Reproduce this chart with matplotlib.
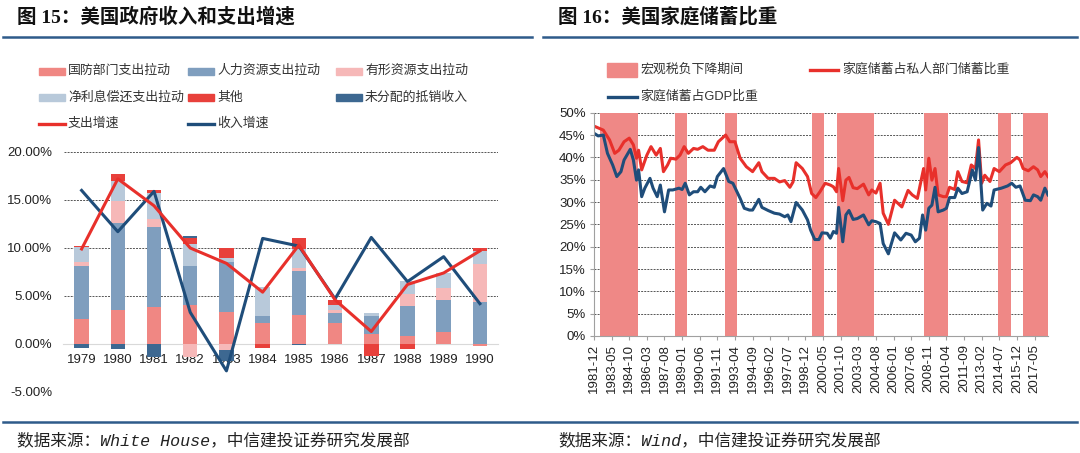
import matplotlib
matplotlib.use('Agg')
import matplotlib.pyplot as plt
from matplotlib.patches import Rectangle
from matplotlib.lines import Line2D
import numpy as np

plt.rcParams['font.family'] = ['Liberation Sans', 'Noto Sans CJK SC', 'DejaVu Sans']

# ---------- 图15 data (percent) ----------
years = ['1979', '1980', '1981', '1982', '1983', '1984', '1985', '1986', '1987', '1988', '1989', '1990']
defense = [2.6, 3.5, 3.9, 4.1, 3.3, 2.2, 3.0, 2.2, 1.0, 0.8, 1.2, -0.2]
human = [5.5, 9.1, 8.3, 4.0, 5.2, 0.7, 4.6, 1.0, 1.9, 3.2, 3.4, 4.4]
tangible = [0.4, 2.3, 0.8, -1.4, -0.6, 0.0, 0.3, 0.3, 0.0, 1.2, 1.2, 3.9]
interest = [1.6, 2.1, 2.7, 2.3, 0.5, 3.0, 2.0, 0.6, 0.3, 1.4, 1.6, 1.4]
other = [0.1, 0.7, 0.3, 0.6, 1.0, -0.4, 1.1, 0.5, -1.2, -0.5, 0.0, 0.3]
undistributed = [-0.4, -0.5, -1.4, 0.3, -1.2, 0.0, -0.1, 0.0, 0.0, 0.0, 0.0, 0.0]
spend_growth = [9.9, 17.2, 14.4, 10.0, 8.4, 5.4, 10.3, 4.6, 1.3, 6.2, 7.4, 9.7]
revenue_growth = [16.0, 11.7, 15.9, 3.3, -2.8, 11.0, 10.2, 4.7, 11.1, 6.5, 9.1, 4.2]

# ---------- 图16 data (percent), x = months since 1981-12 ----------
private_m = [0, 1, 9, 15, 20, 24, 29, 34, 38, 41, 43, 46, 51, 55, 60, 64, 67, 71, 74, 79,
             83, 87, 91, 96, 100, 105, 110, 116, 120, 127, 131, 136, 141, 147, 153, 159, 162, 168, 174, 179,
             184, 189, 192, 195, 201, 206, 210, 214, 218, 223, 228, 231, 234, 236, 240, 243, 246, 250, 254, 260,
             265, 268, 272, 276, 279, 284, 290, 297, 303, 307, 312, 316, 318, 320, 323, 326, 329, 332, 337, 340,
             343, 348, 351, 355, 360, 364, 368, 371, 374, 377, 382, 386, 391, 397, 402, 408, 411, 414, 419, 424,
             428, 431, 435, 438]
private_share = [47.0, 46.9, 46.1, 43.9, 40.9, 41.6, 43.5, 44.3, 42.8, 39.8, 41.6, 37.2, 40.5, 42.4, 40.5, 42.0, 36.8, 38.3, 39.8, 39.6,
                 40.5, 42.4, 40.9, 42.0, 41.8, 42.4, 41.6, 41.6, 43.5, 45.0, 43.5, 43.5, 39.8, 37.9, 36.8, 38.8, 36.8, 35.3, 35.3, 34.5,
                 34.8, 33.3, 34.5, 38.8, 37.5, 35.7, 31.9, 31.0, 32.3, 34.2, 33.8, 33.4, 32.3, 37.5, 30.3, 34.9, 35.5, 33.2, 33.0, 34.0,
                 31.6, 32.7, 32.0, 34.2, 27.5, 25.0, 30.4, 28.9, 32.6, 31.6, 30.8, 35.3, 37.5, 32.7, 39.8, 34.9, 37.5, 31.6, 31.2, 31.2,
                 33.3, 32.8, 36.8, 34.6, 34.3, 38.3, 37.5, 43.9, 34.2, 36.0, 34.6, 37.5, 36.8, 38.3, 38.8, 40.0, 39.4, 37.5, 37.0, 37.9,
                 37.2, 35.7, 36.8, 35.7]
gdp_m = [0, 4, 9, 13, 18, 22, 26, 29, 35, 38, 41, 43, 46, 49, 54, 57, 61, 64, 68, 72,
         76, 82, 85, 88, 92, 96, 100, 103, 107, 112, 116, 119, 125, 130, 134, 141, 145, 150, 153, 159,
         162, 168, 174, 179, 184, 187, 190, 195, 201, 206, 209, 213, 217, 220, 225, 228, 231, 234, 236, 240,
         243, 246, 250, 254, 260, 265, 268, 272, 276, 279, 284, 290, 296, 301, 306, 310, 314, 317, 320, 323,
         326, 329, 332, 337, 340, 343, 348, 351, 355, 360, 365, 368, 371, 375, 379, 383, 386, 393, 399, 403,
         407, 411, 416, 421, 424, 428, 431, 435, 438]
gdp_share = [45.4, 44.8, 45.0, 40.9, 38.3, 35.7, 36.8, 39.4, 41.8, 39.4, 34.9, 37.2, 31.2, 33.1, 35.3, 33.1, 31.2, 33.8, 27.8, 32.7,
             32.7, 33.1, 32.8, 34.2, 31.6, 32.3, 32.3, 33.3, 32.3, 33.6, 33.3, 35.7, 37.5, 34.6, 34.2, 30.8, 28.6, 28.2, 28.2, 30.6,
             28.8, 28.1, 27.5, 27.3, 26.7, 27.1, 25.6, 29.9, 28.2, 26.0, 23.7, 21.6, 21.6, 23.1, 23.0, 21.9, 23.4, 23.0, 28.8, 21.1,
             27.1, 28.1, 26.1, 26.3, 27.1, 24.9, 25.8, 25.6, 25.2, 20.7, 18.4, 23.1, 21.5, 23.0, 22.6, 21.1, 21.9, 27.1, 23.7, 28.6,
             29.3, 33.3, 27.8, 28.2, 28.6, 31.0, 31.0, 33.1, 31.9, 32.3, 37.2, 34.9, 42.2, 28.2, 29.7, 29.1, 32.7, 33.1, 33.6, 34.2,
             33.3, 33.6, 30.4, 30.3, 31.6, 31.2, 30.4, 33.1, 31.6]
tax_cut_start = ['1982-06', '1988-06', '1992-06', '1999-06', '2001-06', '2008-06', '2014-06', '2016-06']
tax_cut_end = ['1985-06', '1989-06', '1993-06', '2000-06', '2004-06', '2010-06', '2015-06', '2018-06']
date_labels = ['1981-12', '1983-05', '1984-10', '1986-03', '1987-08', '1989-01', '1990-06', '1991-11', '1993-04',
               '1994-09', '1996-02', '1997-07', '1998-12', '2000-05', '2001-10', '2003-03', '2004-08', '2006-01',
               '2007-06', '2008-11', '2010-04', '2011-09', '2013-02', '2014-07', '2015-12', '2017-05']


def months_since(s):
    y, m = s.split('-')
    return (int(y) - 1981) * 12 + int(m) - 12


C_DEF = '#F08783'
C_HUM = '#7F9EBE'
C_TAN = '#F6B8B8'
C_INT = '#B8C9DA'
C_OTH = '#E8403B'
C_UND = '#3D6891'
C_RED = '#E8302B'
C_NAVY = '#1F4D7A'
C_HEAD = '#2E5B8A'
GRID = dict(color='#555555', linestyle=(0, (2, 1.2)), linewidth=0.7)

W, H = 1080, 453
fig = plt.figure(figsize=(W / 100, H / 100), dpi=100)


def fx(px):
    return px / W


def fy(py):
    return 1 - py / H


title_font = ['Liberation Serif', 'Noto Sans CJK SC']
fig.text(fx(17), fy(17), '图 15：美国政府收入和支出增速', fontsize=14, fontweight='bold',
         family=title_font, va='center', ha='left', color='#111111')
fig.text(fx(558), fy(17), '图 16：美国家庭储蓄比重', fontsize=14, fontweight='bold',
         family=title_font, va='center', ha='left', color='#111111')
fig.add_artist(Line2D([fx(3), fx(532)], [fy(37), fy(37)], color=C_HEAD, lw=1.8))
fig.add_artist(Line2D([fx(543), fx(1077)], [fy(37), fy(37)], color=C_HEAD, lw=1.8))
fig.add_artist(Line2D([fx(3), fx(1077)], [fy(422), fy(422)], color=C_HEAD, lw=1.8))
foot_font = ['Liberation Mono', 'Noto Sans CJK SC']
fig.text(fx(17), fy(440), '数据来源：White House，中信建投证券研究发展部', fontsize=12,
         family=foot_font, va='center', ha='left', color='#222222', style='italic')
fig.text(fx(558), fy(440), '数据来源：Wind，中信建投证券研究发展部', fontsize=12,
         family=foot_font, va='center', ha='left', color='#222222', style='italic')

# ---------- left chart ----------
ax1 = fig.add_axes([fx(63.5), fy(392), fx(434.5), (392 - 152) / H])
x = np.arange(len(years))
series = [(defense, C_DEF, '国防部门支出拉动'), (human, C_HUM, '人力资源支出拉动'),
          (tangible, C_TAN, '有形资源支出拉动'), (interest, C_INT, '净利息偿还支出拉动'),
          (other, C_OTH, '其他'), (undistributed, C_UND, '未分配的抵销收入')]
pos_base = np.zeros(len(years))
neg_base = np.zeros(len(years))
for vals, col, lab in series:
    v = np.array(vals)
    b = np.where(v >= 0, pos_base, neg_base)
    ax1.bar(x, v, 0.4, bottom=b, color=col, zorder=2)
    pos_base = pos_base + np.clip(v, 0, None)
    neg_base = neg_base + np.clip(v, None, 0)
ax1.plot(x, spend_growth, color=C_RED, lw=2.2, zorder=4)
ax1.plot(x, revenue_growth, color=C_NAVY, lw=2.2, zorder=3)
ax1.set_xlim(-0.5, len(years) - 0.5)
ax1.set_ylim(-5, 20)
ax1.set_yticks([-5, 0, 5, 10, 15, 20])
ax1.set_yticklabels(['%.2f%%' % t for t in [-5, 0, 5, 10, 15, 20]])
ax1.set_xticks(x)
ax1.set_xticklabels(years)
for t in [-5, 5, 10, 15, 20]:
    ax1.axhline(t, zorder=1, **GRID)
for s in ['top', 'right', 'left']:
    ax1.spines[s].set_visible(False)
ax1.spines['bottom'].set_position(('data', 0))
ax1.spines['bottom'].set_color('#d9d9d9')
ax1.spines['bottom'].set_zorder(1)
ax1.tick_params(axis='x', length=0, pad=7, labelsize=9.5, colors='#222222')
ax1.tick_params(axis='y', length=0, pad=8, labelsize=9.5, colors='#222222')

# left legend (drawn by hand to keep the Excel layout)
leg_rows = [71, 97.5, 124]
leg_cols = [39, 188, 336]
leg_items = [('patch', C_DEF, '国防部门支出拉动'), ('patch', C_HUM, '人力资源支出拉动'), ('patch', C_TAN, '有形资源支出拉动'),
             ('patch', C_INT, '净利息偿还支出拉动'), ('patch', C_OTH, '其他'), ('patch', C_UND, '未分配的抵销收入'),
             ('line', C_RED, '支出增速'), ('line', C_NAVY, '收入增速')]
for i, (kind, col, lab) in enumerate(leg_items):
    px0 = leg_cols[i % 3]
    py0 = leg_rows[i // 3]
    if kind == 'patch':
        fig.add_artist(Rectangle((fx(px0), fy(py0 + 3.5)), fx(26), 7 / H, color=col))
    else:
        fig.add_artist(Line2D([fx(px0), fx(px0 + 26)], [fy(py0), fy(py0)], color=col, lw=2.4))
    fig.text(fx(px0 + 29), fy(py0), lab, fontsize=9.3, va='center', ha='left', color='#333333')

# ---------- right chart ----------
ax2 = fig.add_axes([fx(594), fy(336), fx(454), (336 - 112.7) / H])
for s0, s1 in zip(tax_cut_start, tax_cut_end):
    ax2.axvspan(months_since(s0), months_since(s1), color='#EF8886', lw=0, zorder=1)
for t in range(5, 55, 5):
    ax2.axhline(t, zorder=0.5, **GRID)
ax2.plot(private_m, private_share, color=C_RED, lw=2.2, zorder=3)
ax2.plot(gdp_m, gdp_share, color=C_NAVY, lw=2.2, zorder=3)
ax2.set_xlim(0, 438)
ax2.set_ylim(0, 50)
ax2.set_yticks(range(0, 55, 5))
ax2.set_yticklabels(['%d%%' % t for t in range(0, 55, 5)])
ax2.set_xticks([months_since(d) for d in date_labels])
ax2.set_xticklabels(date_labels, rotation=90)
for s in ['top', 'right']:
    ax2.spines[s].set_visible(False)
for s in ['left', 'bottom']:
    ax2.spines[s].set_color('#a0a0a0')
    ax2.spines[s].set_zorder(4)
ax2.tick_params(axis='x', length=3, color='#a0a0a0', pad=3, labelsize=9.5, colors='#222222')
ax2.tick_params(axis='x', color='#a0a0a0')
ax2.tick_params(axis='y', length=3, color='#a0a0a0', pad=3, labelsize=9.5, colors='#222222')
ax2.tick_params(axis='y', color='#a0a0a0')

# right legend
fig.add_artist(Rectangle((fx(607), fy(77)), fx(30), 14 / H, color='#EF8886'))
fig.text(fx(640), fy(70), '宏观税负下降期间', fontsize=9.3, va='center', ha='left', color='#333333')
fig.add_artist(Line2D([fx(810), fx(838)], [fy(70), fy(70)], color=C_RED, lw=2.4))
fig.text(fx(842), fy(70), '家庭储蓄占私人部门储蓄比重', fontsize=9.3, va='center', ha='left', color='#333333')
fig.add_artist(Line2D([fx(608), fx(637)], [fy(96.5), fy(96.5)], color=C_NAVY, lw=2.4))
fig.text(fx(640), fy(96.5), '家庭储蓄占GDP比重', fontsize=9.3, va='center', ha='left', color='#333333')

fig.savefig('out.png', dpi=100)
